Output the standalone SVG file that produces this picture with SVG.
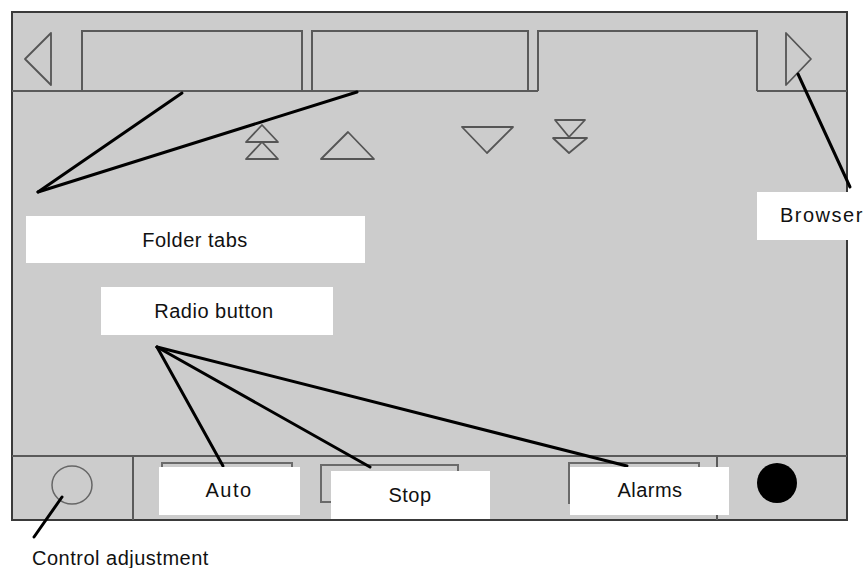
<svg xmlns="http://www.w3.org/2000/svg" width="864" height="568" viewBox="0 0 864 568">
<style>
.ol{fill:none;stroke:#5a5a5a;stroke-width:2}
.btn{fill:none;stroke:#6a6a6a;stroke-width:2}
.tri{fill:none;stroke:#555;stroke-width:1.8;stroke-linejoin:round}
.lbl{fill:#fff}
.t{font-family:"Liberation Sans",Arial,sans-serif;font-size:20px;fill:#111;letter-spacing:0.5px}
.c{fill:none;stroke:#000;stroke-width:3;stroke-linecap:round}
</style>
<rect width="864" height="568" fill="#fff"/>
<g id="panel">
<rect x="12" y="12" width="835" height="508" fill="#cccccc" stroke="#3a3a3a" stroke-width="2"/>
<line x1="12" y1="91" x2="538" y2="91" class="ol"/>
<line x1="757" y1="91" x2="847" y2="91" class="ol"/>
<line x1="12" y1="456" x2="847" y2="456" class="ol"/>
<line x1="133" y1="456" x2="133" y2="520" class="ol"/>
<line x1="717" y1="456" x2="717" y2="520" class="ol"/>
</g>
<g id="tab1"><path d="M82,91 V31 H302 V91" class="ol"/></g>
<g id="tab2"><path d="M312,91 V31 H528 V91" class="ol"/></g>
<g id="tab3"><path d="M538,91 V31 H757 V91" class="ol"/></g>
<g id="browse-left"><polygon points="25,59 51,33 51,85" class="tri"/></g>
<g id="browse-right"><polygon points="811,59 786,33 786,85" class="tri"/></g>
<g id="fast-up"><polygon points="262,125 246,142 278,142" class="tri"/><polygon points="262,142 246,159 278,159" class="tri"/></g>
<g id="up"><polygon points="348,132 321,159 374,159" class="tri"/></g>
<g id="down"><polygon points="462,127 513,127 487,153" class="tri"/></g>
<g id="fast-down"><polygon points="555,120 585,120 569,137" class="tri"/><polygon points="553,138 587,138 569,153" class="tri"/></g>
<g id="control-knob"><ellipse cx="72" cy="485" rx="20" ry="19" fill="none" stroke="#666" stroke-width="1.5"/></g>
<g id="indicator"><circle cx="777" cy="483" r="20" fill="#000"/></g>
<g id="auto-btn"><rect x="162" y="463" width="130" height="40" class="btn"/></g>
<g id="stop-btn"><rect x="321" y="465" width="137" height="37" class="btn"/></g>
<g id="alarms-btn"><rect x="569" y="463" width="130" height="40" class="btn"/></g>
<g id="connectors">
<line x1="38" y1="192" x2="182" y2="93" class="c"/>
<line x1="38" y1="192" x2="357" y2="92" class="c"/>
<line x1="850" y1="187" x2="798" y2="74" class="c"/>
<line x1="157" y1="347" x2="223" y2="466" class="c"/>
<line x1="157" y1="347" x2="370" y2="467" class="c"/>
<line x1="157" y1="347" x2="627" y2="466" class="c"/>
<line x1="62" y1="497" x2="34" y2="537" class="c"/>
</g>
<g id="label-folder-tabs"><rect x="26" y="216" width="339" height="47" class="lbl"/><text x="195" y="247" text-anchor="middle" class="t">Folder tabs</text></g>
<g id="label-radio"><rect x="101" y="287" width="232" height="48" class="lbl"/><text x="214" y="318" text-anchor="middle" class="t">Radio button</text></g>
<g id="label-browser"><rect x="757" y="192" width="107" height="48" class="lbl"/><text x="780" y="222" class="t" style="letter-spacing:1.5px">Browser</text></g>
<g id="label-auto"><rect x="159" y="467" width="141" height="48" class="lbl"/><text x="229" y="497" text-anchor="middle" class="t" style="letter-spacing:1.5px">Auto</text></g>
<g id="label-stop"><rect x="331" y="471" width="159" height="48" class="lbl"/><text x="410" y="502" text-anchor="middle" class="t">Stop</text></g>
<g id="label-alarms"><rect x="570" y="467" width="159" height="48" class="lbl"/><text x="650" y="497" text-anchor="middle" class="t">Alarms</text></g>
<g id="label-control"><text x="32" y="565" class="t">Control adjustment</text></g>
</svg>
